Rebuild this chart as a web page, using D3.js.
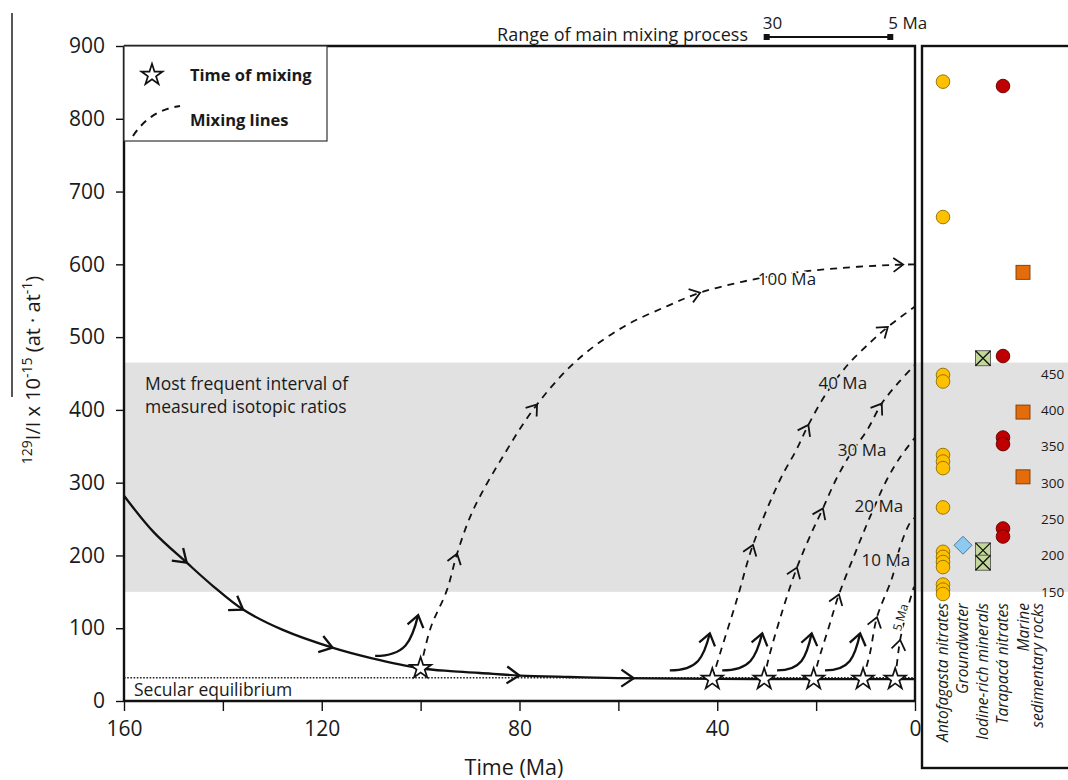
<!DOCTYPE html>
<html><head><meta charset="utf-8">
<script src="https://cdn.jsdelivr.net/npm/d3@7"></script>
<style>
body{margin:0;background:#fff}
svg{display:block}
text{font-family:'Open Sans',sans-serif;fill:#1a1a1a}
</style>
</head><body>
<svg id="c" width="1068" height="780"></svg>
<script>
// ---------- data ----------
const yTicks = [0,100,200,300,400,500,600,700,800,900];
const xTicks = [160,140,120,100,80,60,40,20,0];
const xTickLabels = [160,120,80,40,0];
const bandRange = [150,465];
const secularEq = 32;
const mainCurve = [[160,282],[154,232],[147.3,190],[142,158],[136,126],[128,98],[117.7,73],[110,59],[100,45],[94,41],[88,38.5],[80,35],[70,33],[60,31.5],[40,30.5],[20,30],[0,30]];
const mainArrows = [147.3,136,117.7,80,57];
const mixTimes = [100,41,30.5,20.5,10.5,4];
const mixValues = [45,30,30,30,30,30];
const line100 = [[100,45],[98,100],[94.7,152],[92.6,203],[89.4,262],[83,340],[76.5,407],[68.4,468],[59,514],[50,543],[43.5,561],[35,576],[25,588],[15,595],[5,599],[0,600]];
const line40 = [[41,30],[39.4,66],[36,140],[32.8,214],[27.3,304],[24,345],[21.6,379],[18,422],[13.6,462],[9,493],[5.5,514],[0,542]];
const line30 = [[30.5,30],[29.7,56],[27,120],[23.9,183],[21,230],[18.6,265],[16,304],[13,340],[9.7,372],[6.7,409],[3.4,437],[0,462]];
const line20 = [[20.5,30],[19.6,54],[17.5,100],[15.4,146],[12,205],[9.1,253],[5.7,304],[3,335],[0,362]];
const line10 = [[10.5,30],[9.1,66],[7.7,115],[4.6,170],[3,212],[1,245],[0,252]];
const line5 = [[4,30],[3.5,60],[3,84],[1.8,120],[0.2,157]];
const mixLines = [line100,line40,line30,line20,line10,line5];
const mixArrows = [[[92.6,203],[76.5,407],[43.5,561],[2.4,599]],[[32.8,214],[21.6,379],[5.5,514]],[[23.9,183],[18.6,265],[6.7,409]],[[15.4,146]],[[7.7,115]],[[3,84]]];
const mixLabels = ["100 Ma","40 Ma","30 Ma","20 Ma","10 Ma","5 Ma"];
const mixLabelAt = [[25.9,581],[14.6,438],[10.7,345],[7.3,269],[5.9,194],[3,115]];
const hookFrom = [[109.2,62],[49.6,42],[39,42],[27.9,42],[18.2,42]];
const hookTo = [[100.5,118],[41.5,93],[30.9,93],[20.9,93],[11.1,93]];
const mixRange = [30,5];

const groups = ["Antofagasta nitrates","Groundwater","Iodine-rich minerals","Tarapacá nitrates","Marine sedimentary rocks"];
const antofagasta = [851,665,448,439,338,329,320,266,205,198,191,184,160,153,147];
const groundwater = [214];
const iodineRich = [471,207,190];
const tarapaca = [845,474,362,353,237,226];
const marine = [589,397,308];
const panelTicks = [150,200,250,300,350,400,450];

// ---------- layout ----------
const svg = d3.select("#c");
const x = d3.scaleLinear().domain([160,0]).range([124,915]);
const y = d3.scaleLinear().domain([0,900]).range([701,46]);
const gx = d3.scalePoint().domain(groups).range([943,1023]);
const BAND = "#e1e1e1";

// gray band (main + right panel)
svg.append("rect").attr("x",x(160)).attr("y",y(bandRange[1]))
  .attr("width",1068-x(160)).attr("height",y(bandRange[0])-y(bandRange[1])).attr("fill",BAND);

// band text
svg.append("text").attr("x",145).attr("y",y(bandRange[1])+27).attr("font-size",17.5).text("Most frequent interval of");
svg.append("text").attr("x",145).attr("y",y(bandRange[1])+50).attr("font-size",17.5).text("measured isotopic ratios");

// secular equilibrium
svg.append("line").attr("x1",x(160)).attr("x2",x(0)).attr("y1",y(secularEq)).attr("y2",y(secularEq))
  .attr("stroke","#222").attr("stroke-width",1.6).attr("stroke-dasharray","1.6,1.6");
svg.append("text").attr("x",134).attr("y",696).attr("font-size",17.5).text("Secular equilibrium");

const lineGen = d3.line().x(d=>x(d[0])).y(d=>y(d[1])).curve(d3.curveCatmullRom.alpha(0.5));

function chevron(g, px, py, ang, len, half, sw){
  const a1 = ang + Math.PI - half, a2 = ang + Math.PI + half;
  g.append("path").attr("d",`M${px+len*Math.cos(a1)},${py+len*Math.sin(a1)}L${px},${py}L${px+len*Math.cos(a2)},${py+len*Math.sin(a2)}`)
    .attr("fill","none").attr("stroke","#111").attr("stroke-width",sw).attr("stroke-linejoin","miter");
}
function tangentNear(node, px, py){
  const L = node.getTotalLength(); let best=0, bd=1e9;
  for(let i=0;i<=600;i++){const l=L*i/600; const p=node.getPointAtLength(l); const d=(p.x-px)**2+(p.y-py)**2; if(d<bd){bd=d;best=l;}}
  const p0=node.getPointAtLength(Math.max(0,best-3)), p1=node.getPointAtLength(Math.min(L,best+3)), p=node.getPointAtLength(best);
  return {x:p.x,y:p.y,a:Math.atan2(p1.y-p0.y,p1.x-p0.x)};
}

// mixing lines
const gm = svg.append("g");
mixLines.forEach((pts,i)=>{
  const p = gm.append("path").attr("d",lineGen(pts)).attr("fill","none").attr("stroke","#111")
    .attr("stroke-width",1.8).attr("stroke-dasharray","7,6");
  mixArrows[i].forEach(a=>{
    const t = tangentNear(p.node(), x(a[0]), y(a[1]));
    chevron(gm, t.x, t.y, t.a, 12, 0.62, 1.8);
  });
});

// main curve
const mc = svg.append("path").attr("d",lineGen(mainCurve)).attr("fill","none").attr("stroke","#111").attr("stroke-width",2.3);
mainArrows.forEach(tv=>{
  const idx = d3.bisector(d=>-d[0]).left(mainCurve,-tv);
  const a = mainCurve[Math.max(0,idx-1)], b = mainCurve[Math.min(mainCurve.length-1,idx)];
  const f = a[0]===b[0]?0:(a[0]-tv)/(a[0]-b[0]);
  const v = a[1]+(b[1]-a[1])*f;
  const t = tangentNear(mc.node(), x(tv), y(v));
  chevron(svg, t.x, t.y, t.a, 15, 0.6, 2.3);
});

// hook arrows
hookFrom.forEach((f,i)=>{
  const x0=x(f[0]), y0=y(f[1]), x1=x(hookTo[i][0]), y1=y(hookTo[i][1]);
  const w=x1-x0, h=y0-y1;
  const c2x=x1-0.15*w, c2y=y0-0.35*h;
  svg.append("path").attr("d",`M${x0},${y0}C${x0+0.7*w},${y0} ${c2x},${c2y} ${x1},${y1}`)
    .attr("fill","none").attr("stroke","#111").attr("stroke-width",2.3);
  chevron(svg, x1, y1, Math.atan2(y1-c2y, x1-c2x), 14, 0.62, 2.3);
});

// mixing labels
mixLabels.forEach((lab,i)=>{
  const px=x(mixLabelAt[i][0]), py=y(mixLabelAt[i][1]);
  const inBand = mixLabelAt[i][1]>bandRange[0] && mixLabelAt[i][1]<bandRange[1];
  const t = svg.append("text").attr("text-anchor","middle").attr("dominant-baseline","central")
    .attr("font-size", i===5?12:17).attr("stroke", inBand?BAND:"#fff").attr("stroke-width",3)
    .attr("paint-order","stroke").text(lab);
  if(i===5) t.attr("transform",`translate(${px},${py}) rotate(-74)`);
  else t.attr("x",px).attr("y",py);
});

// stars
const star = d3.symbol().type(d3.symbolStar).size(140);
mixTimes.forEach((tm,i)=>{
  svg.append("path").attr("d",star()).attr("transform",`translate(${x(tm)},${y(mixValues[i])})`)
    .attr("fill","#fff").attr("stroke","#111").attr("stroke-width",1.7);
});

// axes
const ax = svg.append("g").attr("transform",`translate(0,${y(0)})`)
  .call(d3.axisBottom(x).tickValues(xTicks).tickSize(10).tickPadding(10)
    .tickFormat(d=>xTickLabels.includes(d)?d:""));
const ay = svg.append("g").attr("transform",`translate(${x(160)},0)`)
  .call(d3.axisLeft(y).tickValues(yTicks).tickSize(8).tickPadding(11));
[ax,ay].forEach(g=>{
  g.select(".domain").attr("stroke","#111").attr("stroke-width",2.4);
  g.selectAll(".tick line").attr("stroke","#111").attr("stroke-width",1.4);
  g.selectAll(".tick text").attr("font-size",21).attr("font-family","'Open Sans',sans-serif").attr("fill","#1a1a1a");
});
ax.select(".domain").attr("d",`M${x(160)},0H${x(0)}`);
ay.select(".domain").attr("d",`M0,${y(0)}V${y(900)}`);
// frame top and right
svg.append("path").attr("d",`M${x(160)},${y(900)}H${x(0)}V${y(0)}`).attr("fill","none").attr("stroke","#111").attr("stroke-width",2.4);

svg.append("text").attr("x",514).attr("y",775).attr("text-anchor","middle").attr("font-size",21.5).text("Time (Ma)");

// y label
const yl = svg.append("text").attr("transform","translate(40,370) rotate(-90)").attr("text-anchor","middle").attr("font-size",20);
yl.append("tspan").attr("font-size",14).attr("dy",-8).text("129");
yl.append("tspan").attr("dy",8).text("I/I x 10");
yl.append("tspan").attr("font-size",14).attr("dy",-8).text("-15");
yl.append("tspan").attr("dy",8).text(" (at · at");
yl.append("tspan").attr("font-size",14).attr("dy",-8).text("-1");
yl.append("tspan").attr("dy",8).text(")");
svg.append("line").attr("x1",12).attr("x2",12).attr("y1",13).attr("y2",397).attr("stroke","#111").attr("stroke-width",1.4);

// legend
svg.append("rect").attr("x",x(160)).attr("y",y(900)).attr("width",203).attr("height",95).attr("fill","#fff").attr("stroke","#333").attr("stroke-width",1.2);
svg.append("path").attr("d",star()).attr("transform","translate(152,75)").attr("fill","#fff").attr("stroke","#111").attr("stroke-width",1.7);
svg.append("path").attr("d","M133,136 Q150,110 180,106").attr("fill","none").attr("stroke","#111").attr("stroke-width",2).attr("stroke-dasharray","7,6");
svg.append("text").attr("x",190).attr("y",81).attr("font-size",16.5).attr("font-weight","bold").text("Time of mixing");
svg.append("text").attr("x",190).attr("y",126).attr("font-size",16.5).attr("font-weight","bold").text("Mixing lines");

// range of main mixing process
svg.append("text").attr("x",748).attr("y",41).attr("text-anchor","end").attr("font-size",18).text("Range of main mixing process");
svg.append("line").attr("x1",x(mixRange[0])).attr("x2",x(mixRange[1])).attr("y1",37).attr("y2",37).attr("stroke","#111").attr("stroke-width",2);
mixRange.forEach(r=>svg.append("rect").attr("x",x(r)-3).attr("y",34).attr("width",6).attr("height",6).attr("fill","#111"));
svg.append("text").attr("x",x(mixRange[0])-4).attr("y",29).attr("font-size",17).text(mixRange[0]);
svg.append("text").attr("x",x(mixRange[1])-2).attr("y",29).attr("font-size",17).text(mixRange[1]+" Ma");

// right panel
svg.append("rect").attr("x",922).attr("y",y(900)).attr("width",160).attr("height",768-y(900)).attr("fill","none").attr("stroke","#111").attr("stroke-width",2.4);
panelTicks.forEach(v=>svg.append("text").attr("x",1041).attr("y",y(v)).attr("dominant-baseline","central").attr("font-size",13.5).text(v));

const gp = svg.append("g");
antofagasta.forEach(v=>gp.append("circle").attr("cx",gx(groups[0])).attr("cy",y(v)).attr("r",6.8).attr("fill","#ffc000").attr("stroke","#8a6d00").attr("stroke-width",0.9));
groundwater.forEach(v=>gp.append("path").attr("d","M0,-9L9,0L0,9L-9,0Z").attr("transform",`translate(${gx(groups[1])},${y(v)})`).attr("fill","#8ec9f0").attr("stroke","#3b6f95").attr("stroke-width",0.9));
iodineRich.forEach(v=>{
  const cx=gx(groups[2]), cy=y(v);
  gp.append("rect").attr("x",cx-7.5).attr("y",cy-7.5).attr("width",15).attr("height",15).attr("fill","#c4d79b").attr("stroke","#555").attr("stroke-width",0.9);
  gp.append("path").attr("d",`M${cx-7.5},${cy-7.5}L${cx+7.5},${cy+7.5}M${cx+7.5},${cy-7.5}L${cx-7.5},${cy+7.5}`).attr("stroke","#111").attr("stroke-width",1.3);
});
tarapaca.forEach(v=>gp.append("circle").attr("cx",gx(groups[3])).attr("cy",y(v)).attr("r",6.8).attr("fill","#c00000").attr("stroke","#5a0000").attr("stroke-width",0.9));
marine.forEach(v=>gp.append("rect").attr("x",gx(groups[4])-7).attr("y",y(v)-7).attr("width",14).attr("height",14).attr("fill","#e46c0a").attr("stroke","#7a3a05").attr("stroke-width",0.9));

const panelLabels = [["Antofagasta nitrates"],["Groundwater"],["Iodine-rich minerals"],["Tarapacá nitrates"],["Marine","sedimentary rocks"]];
panelLabels.forEach((lines,i)=>{
  lines.forEach((s,j)=>{
    const px = gx(groups[i]) + (lines.length>1 ? (j===0?6:20) : 5);
    svg.append("text").attr("transform",`translate(${px},603) rotate(-90)`).attr("text-anchor","end")
      .attr("font-size",15.5).attr("font-style","italic").text(s);
  });
});
</script>
</body></html>
